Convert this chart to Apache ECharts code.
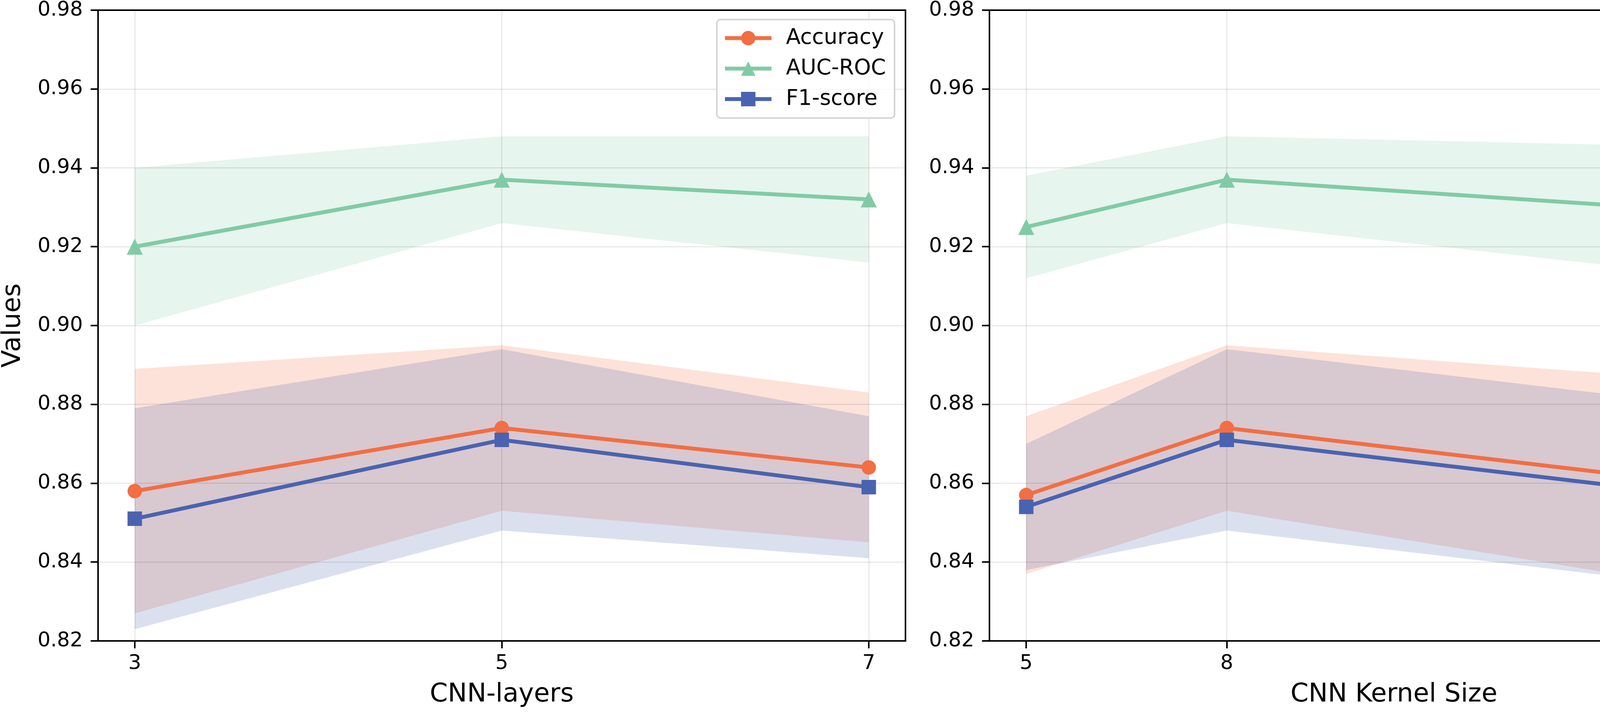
<!DOCTYPE html>
<html><head><meta charset="utf-8">
<script src="https://cdn.jsdelivr.net/npm/echarts@6/dist/echarts.min.js"></script>
<style>html,body{margin:0;padding:0;background:#fff}#c{width:6900px;height:1827px}</style>
</head><body><div id="c"></div>
<script>
// ---- data ----
const metricNames = ['Accuracy', 'AUC-ROC', 'F1-score'];
const xAxisTitles = ['CNN-layers', 'CNN Kernel Size', 'Learning Rate'];

const layersX = [3, 5, 7];
const layersAcc = [0.858, 0.874, 0.864];
const layersAccStd = [0.031, 0.021, 0.019];
const layersAuc = [0.920, 0.937, 0.932];
const layersAucStd = [0.020, 0.011, 0.016];
const layersF1 = [0.851, 0.871, 0.859];
const layersF1Std = [0.028, 0.023, 0.018];

const kernelX = [5, 8, 16];
const kernelAcc = [0.857, 0.874, 0.858];
const kernelAccStd = [0.020, 0.021, 0.027];
const kernelAuc = [0.925, 0.937, 0.928];
const kernelAucStd = [0.013, 0.011, 0.017];
const kernelF1 = [0.854, 0.871, 0.855];
const kernelF1Std = [0.016, 0.023, 0.023];

const lrX = [1e-5, 1e-4, 1e-3];
const lrTickExp = ['\u22125', '\u22124', '\u22123'];
const lrAcc = [0.870, 0.874, 0.856];
const lrAccStd = [0.022, 0.021, 0.021];
const lrAuc = [0.933, 0.937, 0.929];
const lrAucStd = [0.012, 0.011, 0.014];
const lrF1 = [0.866, 0.871, 0.853];
const lrF1Std = [0.019, 0.023, 0.022];

const yMin = 0.82, yMax = 0.98, yStep = 0.02;

// ---- style ----
const colors = ['#F26E43', '#80CBA5', '#4A63B0'];
const bandColors = ['rgba(242,110,67,0.2)', 'rgba(128,203,165,0.2)', 'rgba(74,99,176,0.2)'];
const symbols = ['circle', 'triangle', 'rect'];
const symbolSizes = [37, 41, 37];
const FONT = 'DejaVu Sans';

const panels = [
  {x: layersX, m: [layersAcc, layersAuc, layersF1], s: [layersAccStd, layersAucStd, layersF1Std]},
  {x: kernelX, m: [kernelAcc, kernelAuc, kernelF1], s: [kernelAccStd, kernelAucStd, kernelF1Std]},
  {x: lrX, m: [lrAcc, lrAuc, lrF1], s: [lrAccStd, lrAucStd, lrF1Std]}
];
const gridLefts = [247, 2533, 4822];
const gridWidth = 2071;
const gridTop = 24, gridHeight = 1616;

function bandRenderer(rows) {
  return function (params, api) {
    if (params.dataIndex !== 0) return null;
    const upper = rows.map(r => api.coord([r[0], r[2]]));
    const lower = rows.map(r => api.coord([r[0], r[1]])).reverse();
    return {type: 'polygon', shape: {points: upper.concat(lower)}, style: {fill: api.visual('color')}, silent: true};
  };
}

const grids = [], xAxes = [], yAxes = [], series = [], legends = [];
panels.forEach((p, pi) => {
  grids.push({left: gridLefts[pi], top: gridTop, width: gridWidth, height: gridHeight,
    show: true, borderColor: '#000', borderWidth: 4, backgroundColor: 'transparent', containLabel: false});
  const xmin = Math.min(...p.x), xmax = Math.max(...p.x), pad = (xmax - xmin) * 0.05;
  const xLabel = {
    show: true, customValues: p.x, margin: 32, color: '#000', fontFamily: FONT, fontSize: 52,
    formatter: pi === 2 ? (v) => {
      let idx = 0; p.x.forEach((xv, i) => { if (Math.abs(xv - v) < Math.abs(p.x[idx] - v)) idx = i; });
      return '{b|10}{s|' + lrTickExp[idx] + '}';
    } : (v) => String(v),
    rich: {b: {fontSize: 52, fontFamily: FONT, color: '#000', verticalAlign: 'top'},
           s: {fontSize: 37, fontFamily: FONT, color: '#000', verticalAlign: 'top', padding: [0, 0, 0, 2]}}
  };
  xAxes.push({
    type: 'value', gridIndex: pi, min: xmin - pad, max: xmax + pad, z: 2,
    name: xAxisTitles[pi], nameLocation: 'middle', nameGap: 105,
    nameTextStyle: {fontFamily: FONT, fontSize: 66, color: '#000'},
    axisLine: {show: true, onZero: false, lineStyle: {color: '#000', width: 4}},
    axisTick: {show: true, customValues: p.x, length: 19, lineStyle: {color: '#000', width: 4}},
    axisLabel: xLabel,
    splitLine: {show: true, lineStyle: {color: 'rgba(0,0,0,0.085)', width: 3}}
  });
  yAxes.push({
    type: 'value', gridIndex: pi, min: yMin, max: yMax, interval: yStep, z: 2,
    name: pi === 0 ? 'Values' : '', nameLocation: 'middle', nameGap: 184, nameRotate: 90,
    nameTextStyle: {fontFamily: FONT, fontSize: 66, color: '#000'},
    axisLine: {show: true, onZero: false, lineStyle: {color: '#000', width: 4}},
    axisTick: {show: true, length: 19, lineStyle: {color: '#000', width: 4}},
    axisLabel: {margin: 39, color: '#000', fontFamily: FONT, fontSize: 52, formatter: (v) => v.toFixed(2)},
    splitLine: {show: true, lineStyle: {color: 'rgba(0,0,0,0.085)', width: 3}}
  });
  // bands (mean ± std)
  for (let k = 0; k < 3; k++) {
    const rows = p.x.map((xv, i) => [xv, p.m[k][i] - p.s[k][i], p.m[k][i] + p.s[k][i]]);
    series.push({type: 'custom', name: 'band' + pi + k, xAxisIndex: pi, yAxisIndex: pi, data: rows,
      encode: {x: 0, y: [1, 2]}, itemStyle: {color: bandColors[k]}, renderItem: bandRenderer(rows),
      silent: true, z: 1, animation: false, clip: true});
  }
  // lines
  for (let k = 0; k < 3; k++) {
    series.push({type: 'line', name: metricNames[k], xAxisIndex: pi, yAxisIndex: pi,
      data: p.x.map((xv, i) => [xv, p.m[k][i]]),
      symbol: symbols[k], symbolSize: symbolSizes[k], showSymbol: true,
      lineStyle: {color: colors[k], width: 10}, itemStyle: {color: colors[k]},
      z: 3, animation: false, clip: false, emphasis: {disabled: true}});
  }
  legends.push({
    data: metricNames, orient: 'vertical', right: 6900 - (gridLefts[pi] + gridWidth - 28), top: 50,
    itemWidth: 119, itemHeight: 46, itemGap: 23,
    padding: [20, 22, 21, 16],
    backgroundColor: 'rgba(255,255,255,0.8)', borderColor: '#d5d5d5', borderWidth: 4, borderRadius: 10,
    lineStyle: {width: 10},
    textStyle: {fontFamily: FONT, fontSize: 55, color: '#000', lineHeight: 46, padding: [0, 0, 0, 32]},
    selectedMode: false
  });
});

const chart = echarts.init(document.getElementById('c'), null, {renderer: 'canvas', devicePixelRatio: 1});
chart.setOption({
  backgroundColor: '#fff', animation: false,
  grid: grids, xAxis: xAxes, yAxis: yAxes, series: series, legend: legends
});
</script></body></html>
